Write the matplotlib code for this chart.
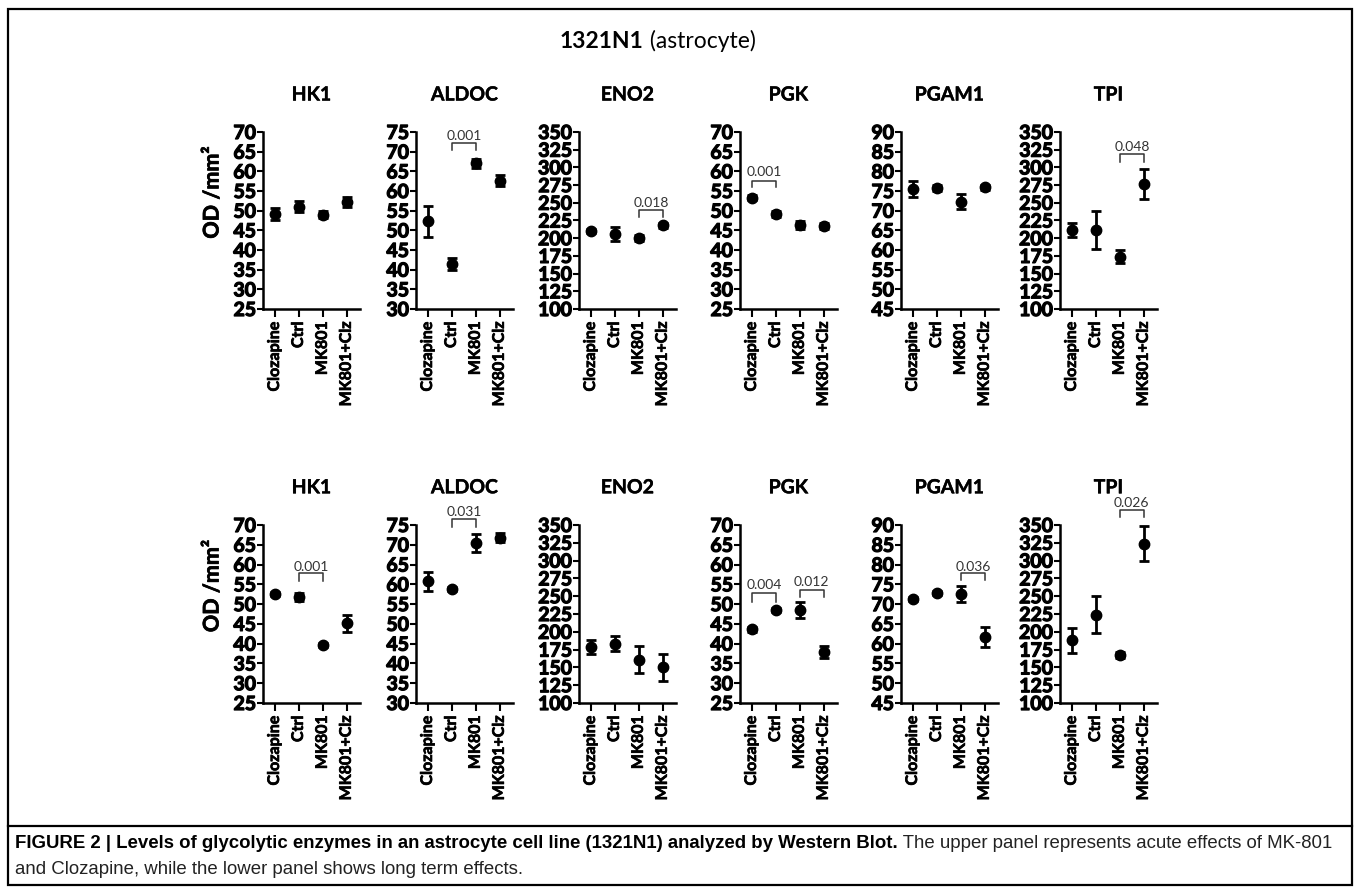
import matplotlib
matplotlib.use("Agg")
import matplotlib.pyplot as plt
import matplotlib.patheffects as pe
from matplotlib.patches import Rectangle
from matplotlib.lines import Line2D

groups = ["Clozapine", "Ctrl", "MK801", "MK801+Clz"]
enzymes = ["HK1", "ALDOC", "ENO2", "PGK", "PGAM1", "TPI"]

# y range per enzyme (same for both panels)
y_min = [25, 30, 100, 25, 45, 100]
y_max = [70, 75, 350, 70, 90, 350]
y_step = [5, 5, 25, 5, 5, 25]

# upper panel - acute effects (rows = enzymes, cols = groups)
acute_mean = [
    [49.2, 51.0, 49.0, 52.2],
    [52.3, 41.4, 67.0, 62.6],
    [210.5, 206.5, 200.5, 218.0],
    [53.3, 49.2, 46.4, 46.1],
    [75.6, 75.7, 72.3, 75.9],
    [211.5, 211.5, 174.0, 277.0],
]
acute_err = [
    [1.5, 1.4, 0.8, 1.2],
    [4.0, 1.6, 1.2, 1.4],
    [3.0, 10.0, 4.0, 4.0],
    [0.7, 0.7, 1.0, 0.8],
    [2.0, 0.7, 1.9, 0.7],
    [10.0, 27.0, 9.5, 21.0],
]

# lower panel - long term effects
chronic_mean = [
    [52.6, 51.9, 39.7, 45.1],
    [60.8, 58.8, 70.4, 71.8],
    [178.5, 183.5, 161.0, 150.0],
    [43.6, 48.5, 48.5, 37.8],
    [71.2, 72.9, 72.6, 61.6],
    [188.0, 224.0, 167.0, 324.0],
]
chronic_err = [
    [0.5, 1.0, 0.5, 2.2],
    [2.4, 0.6, 2.2, 1.2],
    [10.0, 10.0, 19.0, 19.5],
    [0.6, 0.6, 2.0, 1.5],
    [0.5, 0.5, 2.0, 2.5],
    [18.0, 26.0, 4.0, 25.0],
]

# p-value brackets: (enzyme, group a, group b, label, tip y, top y, text y)
acute_brackets = [
    (1, 1, 2, "0.001", 70.4, 72.2, 74.0),
    (2, 2, 3, "0.018", 230, 240, 250),
    (3, 0, 1, "0.001", 56.0, 57.5, 59.8),
    (5, 2, 3, "0.048", 308, 319, 329),
]
chronic_brackets = [
    (0, 1, 2, "0.001", 55.9, 57.9, 59.4),
    (1, 1, 2, "0.031", 74.5, 76.5, 78.3),
    (3, 0, 1, "0.004", 50.6, 52.8, 54.8),
    (3, 2, 3, "0.012", 51.8, 53.6, 55.6),
    (4, 2, 3, "0.036", 76.1, 77.9, 79.4),
    (5, 2, 3, "0.026", 361, 370.5, 381),
]

W, H = 1358, 893
fig = plt.figure(figsize=(W / 100, H / 100), dpi=100)

# layout in pixels
ax_left = [263, 416, 579, 740, 901, 1060]
ax_width = 97
rows = [(132, 309), (525, 703)]
panels = [(acute_mean, acute_err, acute_brackets),
          (chronic_mean, chronic_err, chronic_brackets)]

heavy = [pe.withStroke(linewidth=0.9, foreground="black")]
semi = [pe.withStroke(linewidth=0.5, foreground="black")]


def draw_panel(ax, k, means, errs):
    x = list(range(len(groups)))
    ax.errorbar(x, means, yerr=errs, fmt="o", color="black", ms=7.5,
                elinewidth=2.0, capsize=3.8, capthick=2.0, clip_on=False, zorder=3)
    ax.set_xlim(-0.5, 3.55)
    ax.set_ylim(y_min[k], y_max[k])
    ax.set_yticks(list(range(y_min[k], y_max[k] + 1, y_step[k])))
    ax.set_xticks(x)
    ax.set_xticklabels(groups, rotation=90, fontfamily="Lato", fontweight="bold",
                       fontsize=11.5)
    for lab in ax.get_xticklabels():
        lab.set_path_effects(semi)
    for lab in ax.get_yticklabels():
        lab.set_fontfamily("Lato")
        lab.set_fontweight("bold")
        lab.set_fontsize(14)
        lab.set_path_effects(heavy)
    ax.spines["top"].set_visible(False)
    ax.spines["right"].set_visible(False)
    ax.spines["left"].set_linewidth(1.8)
    ax.spines["bottom"].set_linewidth(1.8)
    ax.tick_params(axis="y", length=4.5, width=1.5, pad=0.5)
    ax.tick_params(axis="x", length=6, width=1.5, pad=3)
    ax.text(0.5, 1 + 37 / 177, enzymes[k], transform=ax.transAxes, ha="center",
            va="center", fontfamily="Lato", fontweight="bold", fontsize=14,
            path_effects=[pe.withStroke(linewidth=0.3, foreground="black")])


for r, (top, bottom) in enumerate(rows):
    means, errs, brackets = panels[r]
    axes = []
    for k in range(len(enzymes)):
        ax = fig.add_axes([ax_left[k] / W, 1 - bottom / H, ax_width / W, (bottom - top) / H])
        draw_panel(ax, k, means[k], errs[k])
        axes.append(ax)
    for k, a, b, label, tip, y_top, y_txt in brackets:
        ax = axes[k]
        ax.plot([a, a, b, b], [tip, y_top, y_top, tip], color="#333333", lw=1.1,
                clip_on=False)
        ax.text((a + b) / 2, y_txt, label, ha="center", va="center", fontsize=10,
                fontfamily="Lato", color="#333333", clip_on=False)
    fig.text(212 / W, 1 - ((top + bottom) / 2 - 28) / H, "OD /mm²", rotation=90,
             ha="center", va="center", fontfamily="Lato", fontweight="bold", fontsize=15.5,
             path_effects=semi)

# main title
t1 = fig.text(560 / W, 1 - 41 / H, "1321N1", ha="left", va="center",
              fontfamily="Lato", fontweight="bold", fontsize=16.5)
plt.annotate(" (astrocyte)", xy=(1, 0), xycoords=t1, va="bottom", ha="left",
             fontfamily="Lato", fontsize=16.5, annotation_clip=False)

# frame and caption
fig.patches.append(Rectangle((8 / W, 1 - 885 / H), 1344 / W, 876 / H, transform=fig.transFigure,
                             fill=False, edgecolor="black", lw=1.6))
fig.lines.append(Line2D([8 / W, 1352 / W], [1 - 826 / H, 1 - 826 / H],
                        transform=fig.transFigure, color="black", lw=1.6))

c1 = fig.text(15 / W, 1 - 844 / H,
              "FIGURE 2 | Levels of glycolytic enzymes in an astrocyte cell line (1321N1) "
              "analyzed by Western Blot.",
              ha="left", va="center", fontfamily="Liberation Sans", fontweight="bold",
              fontsize=13.4)
plt.annotate(" The upper panel represents acute effects of MK-801", xy=(1, 0),
             xycoords=c1, va="bottom", ha="left", fontfamily="Liberation Sans",
             fontsize=13.4, color="#222222", annotation_clip=False)
fig.text(15 / W, 1 - 869 / H,
         "and Clozapine, while the lower panel shows long term effects.",
         ha="left", va="center", fontfamily="Liberation Sans", fontsize=13.4,
         color="#222222")

fig.savefig("out.png", dpi=100)
